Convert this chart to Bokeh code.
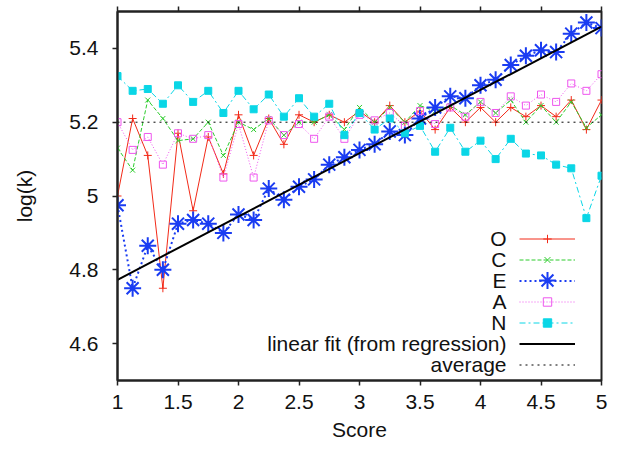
from bokeh.plotting import figure
from bokeh.models import (LinearAxis, FixedTicker, Legend, LegendItem, Label,
                          CustomJSTickFormatter, Range1d)
from bokeh.embed import file_html
from bokeh.resources import INLINE

# ---------------- data ----------------
scores = [1.0, 1.125, 1.25, 1.375, 1.5, 1.625, 1.75, 1.875, 2.0, 2.125, 2.25,
          2.375, 2.5, 2.625, 2.75, 2.875, 3.0, 3.125, 3.25, 3.375, 3.5, 3.625,
          3.75, 3.875, 4.0, 4.125, 4.25, 4.375, 4.5, 4.625, 4.75, 4.875, 5.0]

series_O = [5.00, 5.21, 5.11, 4.75, 5.17, 4.96, 5.16, 5.06, 5.22, 5.11, 5.21,
            5.14, 5.22, 5.20, 5.22, 5.20, 5.23, 5.20, 5.245, 5.20, 5.23, 5.18,
            5.24, 5.20, 5.24, 5.20, 5.24, 5.215, 5.245, 5.215, 5.26, 5.18, 5.26]

series_C = [5.13, 5.07, 5.26, 5.21, 5.15, 5.155, 5.20, 5.11, 5.20, 5.18, 5.21,
            5.165, 5.20, 5.20, 5.22, 5.18, 5.24, 5.20, 5.24, 5.20, 5.245, 5.23,
            5.245, 5.22, 5.255, 5.225, 5.26, 5.20, 5.245, 5.20, 5.255, 5.185, 5.22]

series_E = [4.975, 4.75, 4.865, 4.80, 4.925, 4.935, 4.925, 4.90, 4.95, 4.935, 5.02,
            4.99, 5.025, 5.045, 5.085, 5.105, 5.125, 5.14, 5.175, 5.165, 5.21, 5.24,
            5.27, 5.265, 5.30, 5.315, 5.355, 5.38, 5.395, 5.39, 5.44, 5.47, 5.455]

series_A = [5.20, 5.125, 5.16, 5.085, 5.17, 5.155, 5.165, 5.05, 5.195, 5.05, 5.205,
            5.165, 5.195, 5.155, 5.215, 5.155, 5.22, 5.205, 5.225, 5.19, 5.23, 5.195,
            5.24, 5.215, 5.255, 5.225, 5.27, 5.245, 5.275, 5.255, 5.305, 5.285, 5.33]

series_N = [5.325, 5.285, 5.29, 5.25, 5.30, 5.255, 5.285, 5.225, 5.285, 5.235, 5.275,
            5.215, 5.265, 5.215, 5.25, 5.165, 5.225, 5.18, 5.21, 5.17, 5.19, 5.12,
            5.185, 5.12, 5.15, 5.10, 5.155, 5.115, 5.11, 5.085, 5.075, 4.94, 5.055]

fit_slope = 0.1715
fit_intercept = 4.6015
average_value = 5.2

x_ticks = [1, 1.5, 2, 2.5, 3, 3.5, 4, 4.5, 5]
x_tick_labels = ["1", "1.5", "2", "2.5", "3", "3.5", "4", "4.5", "5"]
y_ticks = [4.6, 4.8, 5.0, 5.2, 5.4]
y_tick_labels = ["4.6", "4.8", "5", "5.2", "5.4"]

legend_labels = ["O", "C", "E", "A", "N", "linear fit (from regression)", "average"]

# ---------------- style ----------------
FONT = "Liberation Sans"
RED = "#f22a18"
GREEN = "#2ccc2c"
BLUE = "#1a3cf2"
MAGENTA = "#ee55ee"
CYAN = "#0ad6e6"
AXIS = "#222222"

W, H = 617, 450
B_LEFT, B_RIGHT, B_TOP, B_BOTTOM = 117, 16, 11, 70

p = figure(width=W, height=H, x_range=Range1d(1, 5), y_range=Range1d(4.5, 5.5),
           output_backend="svg", toolbar_location=None,
           min_border_left=B_LEFT, min_border_right=B_RIGHT, min_border_top=B_TOP,
           min_border_bottom=B_BOTTOM)
p.xgrid.visible = False
p.ygrid.visible = False
p.outline_line_color = AXIS
p.outline_line_width = 2
p.background_fill_color = "white"
p.border_fill_color = "white"

xax = p.xaxis[0]
yax = p.yaxis[0]
xax.ticker = FixedTicker(ticks=x_ticks)
yax.ticker = FixedTicker(ticks=y_ticks)
xax.major_label_overrides = {t: l for t, l in zip(x_ticks, x_tick_labels)}
yax.major_label_overrides = {t: l for t, l in zip(y_ticks, y_tick_labels)}
xax.axis_label = "Score"
yax.axis_label = "log(k)"
for ax in (xax, yax):
    ax.axis_line_color = AXIS
    ax.axis_line_width = 2
    ax.major_tick_in = 0
    ax.major_tick_out = 5
    ax.major_tick_line_color = AXIS
    ax.major_tick_line_width = 1.5
    ax.minor_tick_line_color = None
    ax.major_label_text_font = FONT
    ax.major_label_text_font_size = "21px"
    ax.major_label_text_color = "#111111"
    ax.axis_label_text_font = FONT
    ax.axis_label_text_font_size = "21px"
    ax.axis_label_text_font_style = "normal"
    ax.axis_label_text_color = "#111111"
xax.major_label_standoff = 9
xax.axis_label_standoff = 6
yax.major_label_standoff = 14
yax.axis_label_standoff = 30

top = LinearAxis(ticker=FixedTicker(ticks=x_ticks),
                 formatter=CustomJSTickFormatter(code="return ''"))
top.axis_line_color = AXIS
top.axis_line_width = 2
top.major_tick_in = 0
top.major_tick_out = 5
top.major_tick_line_color = AXIS
top.major_tick_line_width = 1.5
top.minor_tick_line_color = None
top.major_label_standoff = 0
top.major_label_text_font_size = "1px"
p.add_layout(top, "above")

# ---------------- series ----------------
rO_l = p.line(scores, series_O, line_color=RED, line_width=1)
rO_m = p.scatter(scores, series_O, marker="cross", size=8, line_color=RED, line_width=1)

rC_l = p.line(scores, series_C, line_color=GREEN, line_width=1, line_dash="4 2")
rC_m = p.scatter(scores, series_C, marker="x", size=7, line_color=GREEN, line_width=1)

rE_l = p.line(scores, series_E, line_color=BLUE, line_width=2, line_dash="2 3")
rE_m = p.scatter(scores, series_E, marker="asterisk", size=17, line_color=BLUE, line_width=2)

rA_l = p.line(scores, series_A, line_color=MAGENTA, line_width=1, line_dash="1 2")
rA_m = p.scatter(scores, series_A, marker="square", size=7, line_color=MAGENTA,
                 fill_color=None, line_width=1)

rN_l = p.line(scores, series_N, line_color=CYAN, line_width=1, line_dash="6 3 2 3")
rN_m = p.scatter(scores, series_N, marker="square", size=7, line_color=CYAN,
                 fill_color=CYAN, line_width=1)

fit_x = [scores[0], scores[-1]]
fit_y = [fit_intercept + fit_slope * x for x in fit_x]
rFit = p.line(fit_x, fit_y, line_color="black", line_width=2)

avg_y = [average_value for _ in fit_x]
rAvg = p.line(fit_x, avg_y, line_color="black", line_width=1, line_dash="2 4")

# ---------------- legend (samples on the right, labels right-aligned) ----------------
ROW = 21
legend_bottom = 5.5
legend_left = 402
sample_w = 56

renderer_sets = [[rO_l, rO_m], [rC_l, rC_m], [rE_l], [rA_l, rA_m], [rN_l, rN_m],
                 [rFit], [rAvg]]
items = [LegendItem(label=" ", renderers=rs) for rs in renderer_sets]
leg = Legend(items=items, location=(legend_left, legend_bottom), padding=0, margin=0,
             spacing=0, glyph_width=sample_w, glyph_height=ROW, label_height=ROW,
             label_width=0, label_standoff=0, label_text_font_size="1px",
             border_line_color=None, background_fill_alpha=0)
p.add_layout(leg, "center")

n = len(legend_labels)
e_center = legend_bottom + (n - 1 - 2) * ROW + ROW / 2
legE = Legend(items=[LegendItem(label=" ", renderers=[rE_m])],
              location=(legend_left, e_center - ROW), padding=0, margin=0,
              spacing=0, glyph_width=sample_w, glyph_height=2 * ROW, label_height=2 * ROW,
              label_width=0, label_standoff=0, label_text_font_size="1px",
              border_line_color=None, background_fill_alpha=0)
p.add_layout(legE, "center")

for i, txt in enumerate(legend_labels):
    cy = legend_bottom + (n - 1 - i) * ROW + ROW / 2
    p.add_layout(Label(x=legend_left - 13, y=cy, x_units="screen", y_units="screen",
                       text=txt, text_align="right", text_baseline="middle",
                       text_font=FONT, text_font_size="21px", text_color="#111111"))

open("out.html", "w").write(file_html(p, INLINE))
